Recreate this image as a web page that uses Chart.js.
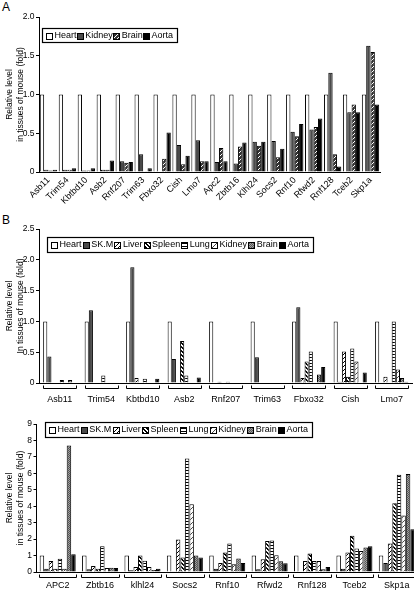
<!doctype html>
<html>

<head>
    <title>Relative level in tissues of mouse</title>
    <script src="https://cdn.jsdelivr.net/npm/chart.js"></script>
</head>

<style>
    body {
        margin: 0;
        width: 414px;
        height: 591px;
        overflow: hidden;
        position: relative;
        background: #fff;
        font-family: 'Liberation Sans Narrow', 'Arial Narrow', 'Liberation Sans', Arial, sans-serif;
    }

    .painel {
        position: absolute;
        left: 0;
    }

    .letra {
        position: absolute;
        left: 2px;
        font-size: 12px;
        font-family: 'Liberation Sans', Arial, sans-serif;
    }
</style>

<body>
    <div class="letra" style="top: 0px;">A</div>
    <div class="letra" style="top: 213px;">B</div>
    <canvas class="painel" id="graficoA" width="414" height="210" style="top: 0;"></canvas>
    <canvas class="painel" id="graficoB1" width="414" height="200" style="top: 210px;"></canvas>
    <canvas class="painel" id="graficoB2" width="420" height="181" style="top: 410px;"></canvas>

    <script>
        // ---- panel A
        var genesA = ['Asb11', 'Trim54', 'Kbtbd10', 'Asb2', 'Rnf207', 'Trim63', 'Fbxo32', 'Cish', 'Lmo7',
            'Apc2', 'Zbtb16', 'Klhl24', 'Socs2', 'Rnf10', 'Rfwd2', 'Rnf128', 'Tceb2', 'Skp1a'];
        var heartA = [1, 1, 1, 1, 1, 1, 1, 1, 1, 1, 1, 1, 1, 1, 1, 1, 1, 1];
        var kidneyA = [0.03, 0.03, 0.02, 0.03, 0.14, 0.23, 0, 0.35, 0.41, 0.13, 0.11, 0.39, 0.40, 0.52, 0.55, 1.28, 0.77, 1.63];
        var brainA = [0.02, 0.03, 0.02, 0.03, 0.12, 0.01, 0.17, 0.10, 0.14, 0.31, 0.33, 0.34, 0.19, 0.46, 0.58, 0.23, 0.87, 1.55];
        var aortaA = [0.03, 0.05, 0.05, 0.15, 0.13, 0.05, 0.51, 0.21, 0.14, 0.14, 0.38, 0.39, 0.30, 0.62, 0.69, 0.07, 0.77, 0.87];
        var ticksA = [0, 0.5, 1, 1.5, 2];

        // ---- panel B (top)
        var genesB1 = ['Asb11', 'Trim54', 'Kbtbd10', 'Asb2', 'Rnf207', 'Trim63', 'Fbxo32', 'Cish', 'Lmo7'];
        var heartB1 = [1, 1, 1, 1, 1, 1, 1, 1, 1];
        var skmB1 = [0.43, 1.18, 1.88, 0.39, 0, 0.42, 1.23, 0.02, 0];
        var liverB1 = [0, 0, 0.08, 0, 0.02, 0, 0.08, 0.51, 0.10];
        var spleenB1 = [0, 0, 0, 0.68, 0, 0, 0.35, 0.10, 0];
        var lungB1 = [0.05, 0.12, 0.07, 0.12, 0.02, 0, 0.51, 0.56, 1];
        var kidneyB1 = [0, 0, 0, 0, 0, 0, 0, 0.35, 0.22];
        var brainB1 = [0.05, 0, 0, 0, 0, 0, 0.14, 0, 0.08];
        var aortaB1 = [0, 0, 0.07, 0.09, 0, 0, 0.26, 0.17, 0.02];
        var ticksB1 = [0, 0.5, 1, 1.5, 2, 2.5];

        // ---- panel B (bottom)
        var genesB2 = ['APC2', 'Zbtb16', 'klhl24', 'Socs2', 'Rnf10', 'Rfwd2', 'Rnf128', 'Tceb2', 'Skp1a'];
        var heartB2 = [1, 1, 1, 1, 1, 1, 1, 1, 1];
        var skmB2 = [0.2, 0.16, 0.1, 0.05, 0.2, 0.16, 0, 0.2, 0.55];
        var liverB2 = [0.67, 0.37, 0.3, 1.98, 0.55, 0.78, 0.67, 1.18, 1.73];
        var spleenB2 = [0.2, 0.2, 1.0, 0.88, 1.18, 1.88, 1.12, 2.2, 4.18];
        var lungB2 = [0.81, 1.57, 0.69, 6.9, 1.73, 1.92, 0.67, 1.43, 5.92];
        var kidneyB2 = [0.2, 0.24, 0.3, 4.12, 0.47, 1.02, 0.67, 1.27, 3.43];
        var brainB2 = [7.7, 0.26, 0.12, 1.0, 0.82, 0.65, 0.16, 1.49, 5.96];
        var aortaB2 = [1.08, 0.24, 0.2, 0.88, 0.55, 0.53, 0.3, 1.57, 2.6];
        var ticksB2 = [0, 1, 2, 3, 4, 5, 6, 7, 8, 9];

        var fonte = "'Liberation Sans Narrow', 'Arial Narrow', 'Liberation Sans', Arial, sans-serif";
        Chart.defaults.font.family = fonte;
        Chart.defaults.font.size = 8.5;
        Chart.defaults.color = '#000';

        // pixel patterns for the bar fills
        function padrao(tam, fundo, tinta, pontos) {
            var c = document.createElement('canvas');
            c.width = tam;
            c.height = tam;
            var g = c.getContext('2d');
            g.fillStyle = fundo;
            g.fillRect(0, 0, tam, tam);
            g.fillStyle = tinta;
            pontos.forEach(function (p) {
                g.fillRect(p[0], p[1], p[2] || 1, p[3] || 1);
            });
            return g.createPattern(c, 'repeat');
        }

        var corBranco = '#ffffff';
        var corEscuro = '#4a4a4a';
        var corPreto = '#000000';
        var hachuraA = padrao(4, '#333333', '#ffffff', [[3, 0], [2, 1], [1, 2], [0, 3]]);
        var hachuraFigado = padrao(4, '#ffffff', '#000000', [[3, 0], [2, 1], [1, 2], [0, 3]]);
        var hachuraBaco = padrao(4, '#ffffff', '#000000', [[0, 0, 2], [1, 1, 2], [2, 2, 2], [3, 3, 1], [0, 3, 1]]);
        var listrasPulmao = padrao(3, '#ffffff', '#000000', [[0, 0, 3, 1]]);
        var hachuraRim = padrao(5, '#ffffff', '#444444', [[4, 0], [3, 1], [2, 2], [1, 3], [0, 4]]);
        var xadrezCerebro = padrao(2, '#a0a0a0', '#555555', [[0, 0], [1, 1]]);

        function barras(nome, valores, preenchimento) {
            return {
                label: nome,
                data: valores,
                backgroundColor: preenchimento,
                borderColor: '#000',
                borderWidth: 1
            };
        }

        // legend drawn as a framed box inside the plot
        var legendaCaixa = {
            id: 'legendaCaixa',
            afterDraw: function (chart, args, op) {
                var ctx = chart.ctx;
                var itens = chart.data.datasets;
                ctx.save();
                ctx.font = op.tamanho + 'px ' + fonte;
                ctx.textBaseline = 'middle';
                var q = 6, folga = 2.5;
                var larguras = itens.map(function (d) { return q + folga + ctx.measureText(d.label).width; });
                var total = larguras.reduce(function (a, b) { return a + b; }, 0);
                var espaco = (op.w - 2 * op.margem - total) / (itens.length - 1);
                ctx.lineWidth = 1.2;
                ctx.strokeStyle = '#000';
                ctx.fillStyle = '#fff';
                ctx.fillRect(op.x, op.y, op.w, op.h);
                ctx.strokeRect(op.x + 0.5, op.y + 0.5, op.w, op.h);
                var x = op.x + op.margem;
                var cy = op.y + op.h / 2 + 0.5;
                itens.forEach(function (d, i) {
                    var sx = Math.round(x) + 0.5, sy = Math.round(cy - q / 2) + 0.5;
                    ctx.fillStyle = d.backgroundColor;
                    ctx.fillRect(sx, sy, q, q);
                    ctx.lineWidth = 1;
                    ctx.strokeRect(sx, sy, q, q);
                    ctx.fillStyle = '#000';
                    ctx.fillText(d.label, x + q + folga, cy);
                    x += larguras[i] + espaco;
                });
                ctx.restore();
            }
        };

        // bracket under each gene group
        var colchetes = {
            id: 'colchetes',
            afterDraw: function (chart, args, op) {
                if (!op.mostrar) return;
                var eixo = chart.scales.x;
                var ctx = chart.ctx;
                var y = Math.round(chart.chartArea.bottom + op.distancia) + 0.5;
                var meio = (eixo.width / eixo.ticks.length) * op.fracao;
                ctx.save();
                ctx.strokeStyle = '#000';
                ctx.lineWidth = 1;
                eixo.ticks.forEach(function (t, i) {
                    var cx = eixo.getPixelForTick(i);
                    var a = Math.round(cx - meio) + 0.5, b = Math.round(cx + meio) + 0.5;
                    ctx.beginPath();
                    ctx.moveTo(a, y - 3);
                    ctx.lineTo(a, y);
                    ctx.lineTo(b, y);
                    ctx.lineTo(b, y - 3);
                    ctx.stroke();
                });
                ctx.restore();
            }
        };

        function eixoY(ticks, largura, titulo) {
            return {
                min: ticks[0],
                max: ticks[ticks.length - 1],
                afterFit: function (s) { s.width = largura; },
                afterBuildTicks: function (s) { s.ticks = ticks.map(function (v) { return { value: v }; }); },
                ticks: { padding: 1.5 },
                grid: { display: true, drawOnChartArea: false, tickLength: 3, color: '#000' },
                border: { display: true, color: '#000' },
                title: {
                    display: true,
                    text: titulo,
                    padding: { top: 4.5, bottom: 0 },
                    font: { size: 8.5, lineHeight: 1.25 }
                }
            };
        }

        function eixoX(altura, giro, distancia, tamanho) {
            return {
                afterFit: function (s) { s.height = altura; },
                grid: { display: false, drawTicks: false },
                border: { display: true, color: '#000' },
                ticks: { autoSkip: false, maxRotation: giro, minRotation: giro, padding: distancia, font: { size: tamanho } }
            };
        }

        function opcoes(cfg) {
            return {
                responsive: false,
                animation: false,
                devicePixelRatio: 1,
                layout: { padding: cfg.padding },
                datasets: { bar: { categoryPercentage: cfg.categoria, barPercentage: 1 } },
                scales: { x: cfg.x, y: cfg.y },
                plugins: {
                    legend: { display: false },
                    tooltip: { enabled: false },
                    legendaCaixa: cfg.legenda,
                    colchetes: cfg.colchetes
                }
            };
        }

        var graficoA = new Chart(document.getElementById('graficoA').getContext('2d'), {
            type: 'bar',
            data: {
                labels: genesA,
                datasets: [
                    barras('Heart', heartA, corBranco),
                    barras('Kidney', kidneyA, corEscuro),
                    barras('Brain', brainA, hachuraA),
                    barras('Aorta', aortaA, corPreto)
                ]
            },
            options: opcoes({
                padding: { top: 17, right: 34, left: 0, bottom: 0 },
                categoria: 0.915,
                x: eixoX(38, 45, 3, 9),
                y: eixoY(ticksA, 39, ['Relative level', 'in tissues of mouse (fold)']),
                legenda: { x: 42, y: 28, w: 135, h: 14, margem: 4, tamanho: 9 },
                colchetes: { mostrar: false }
            }),
            plugins: [legendaCaixa, colchetes]
        });

        var rotulosB = ['Heart', 'SK.M', 'Liver', 'Spleen', 'Lung', 'Kidney', 'Brain', 'Aorta'];
        var preenchimentosB = [corBranco, corEscuro, hachuraFigado, hachuraBaco, listrasPulmao, hachuraRim, xadrezCerebro, corPreto];

        function conjuntosB(series) {
            return series.map(function (s, i) { return barras(rotulosB[i], s, preenchimentosB[i]); });
        }

        var graficoB1 = new Chart(document.getElementById('graficoB1').getContext('2d'), {
            type: 'bar',
            data: {
                labels: genesB1,
                datasets: conjuntosB([heartB1, skmB1, liverB1, spleenB1, lungB1, kidneyB1, brainB1, aortaB1])
            },
            options: opcoes({
                padding: { top: 19, right: 1, left: 0, bottom: 0 },
                categoria: 0.80,
                x: eixoX(27, 0, 11, 9),
                y: eixoY(ticksB1, 39, ['Relative level', 'In tissues of mouse (fold)']),
                legenda: { x: 47, y: 27, w: 266, h: 15, margem: 4, tamanho: 9 },
                colchetes: { mostrar: true, distancia: 5, fracao: 0.4 }
            }),
            plugins: [legendaCaixa, colchetes]
        });

        var graficoB2 = new Chart(document.getElementById('graficoB2').getContext('2d'), {
            type: 'bar',
            data: {
                labels: genesB2,
                datasets: conjuntosB([heartB2, skmB2, liverB2, spleenB2, lungB2, kidneyB2, brainB2, aortaB2])
            },
            options: opcoes({
                padding: { top: 14, right: 2, left: 0, bottom: 0 },
                categoria: 0.85,
                x: eixoX(19, 0, 8, 9),
                y: eixoY(ticksB2, 36.5, ['Relative level', 'in tissues of mouse (fold)']),
                legenda: { x: 45, y: 12, w: 267, h: 15, margem: 4, tamanho: 9 },
                colchetes: { mostrar: true, distancia: 4.5, fracao: 0.44 }
            }),
            plugins: [legendaCaixa, colchetes]
        });
    </script>
</body>

</html>
